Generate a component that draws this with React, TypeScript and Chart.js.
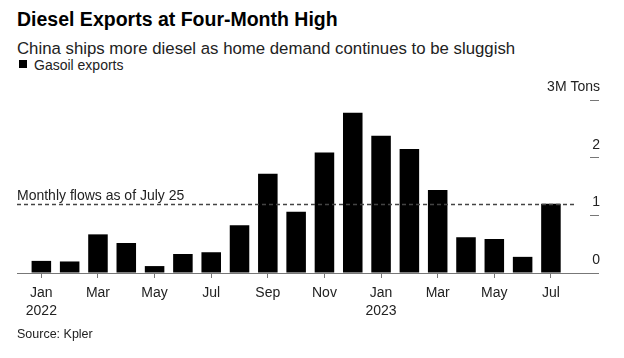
import React, { useEffect, useRef } from "react";
import { Chart, registerables } from "chart.js";

Chart.register(...registerables);

// ---- data ----
const months = [
  "Jan 2022", "Feb 2022", "Mar 2022", "Apr 2022", "May 2022", "Jun 2022",
  "Jul 2022", "Aug 2022", "Sep 2022", "Oct 2022", "Nov 2022", "Dec 2022",
  "Jan 2023", "Feb 2023", "Mar 2023", "Apr 2023", "May 2023", "Jun 2023",
  "Jul 2023",
];
// Gasoil exports, million tons
const gasoilExports = [
  0.21, 0.2, 0.67, 0.52, 0.12, 0.33, 0.36, 0.83, 1.72, 1.06,
  2.09, 2.78, 2.38, 2.15, 1.44, 0.62, 0.59, 0.28, 1.2,
];
const yTickValues = [0, 1, 2, 3];
const yTickLabels = ["0", "1", "2", "3M Tons"];
const flowLevel = 1.19;
const flowLabel = "Monthly flows as of July 25";

const TITLE = "Diesel Exports at Four-Month High";
const SUBTITLE = "China ships more diesel as home demand continues to be sluggish";
const LEGEND = "Gasoil exports";
const SOURCE = "Source: Kpler";

const FONT = '"Liberation Sans", Arial, Helvetica, sans-serif';
const X_MIN = -0.86;
const X_MAX = 19.38;
const FLOW_END = 18.85;

const flowLabelPlugin = {
  id: "flowLabel",
  afterDatasetsDraw(chart: any) {
    const { ctx, chartArea, scales } = chart;
    const y = scales.y.getPixelForValue(flowLevel);
    ctx.save();
    ctx.font = `14px ${FONT}`;
    ctx.fillStyle = "#222";
    ctx.textAlign = "left";
    ctx.textBaseline = "alphabetic";
    ctx.fillText(flowLabel, chartArea.left, y - 4);
    ctx.restore();
  },
};

export default function App() {
  const ref = useRef<HTMLCanvasElement | null>(null);

  useEffect(() => {
    if (!ref.current) return;
    const chart = new Chart(ref.current, {
      type: "bar",
      data: {
        datasets: [
          {
            type: "bar",
            label: LEGEND,
            data: gasoilExports.map((v, i) => ({ x: i, y: v })),
            backgroundColor: "#000",
            borderWidth: 0,
            barPercentage: 0.69,
            categoryPercentage: 1,
            order: 2,
          } as any,
          {
            type: "line",
            label: flowLabel,
            data: [
              { x: X_MIN, y: flowLevel },
              { x: FLOW_END, y: flowLevel },
            ],
            borderColor: "#444",
            borderWidth: 1.5,
            borderDash: [4, 3],
            pointRadius: 0,
            order: 1,
          } as any,
        ],
      },
      options: {
        responsive: false,
        animation: false,
        devicePixelRatio: 1,
        layout: { padding: { left: 17, right: 24, top: 100, bottom: 35 } },
        plugins: {
          legend: { display: false },
          tooltip: { enabled: false },
        },
        scales: {
          x: {
            type: "linear",
            min: X_MIN,
            max: X_MAX,
            offset: false,
            afterFit: (axis: any) => {
              axis.height = 50;
            },
            afterBuildTicks: (axis: any) => {
              axis.ticks = months
                .map((_, i) => ({ value: i }))
                .filter((t) => t.value % 2 === 0);
            },
            ticks: {
              autoSkip: false,
              maxRotation: 0,
              padding: 6,
              color: "#222",
              font: { family: FONT, size: 14, lineHeight: 1.3 },
              callback: (v: any) => {
                const i = Math.round(Number(v));
                const [m, yr] = months[i].split(" ");
                return m === "Jan" ? [m, yr] : m;
              },
            },
            grid: {
              offset: false,
              drawOnChartArea: false,
              drawTicks: true,
              tickLength: 5,
              color: "#777",
              lineWidth: 1,
            },
            border: { display: true, color: "#777", width: 1 },
          },
          y: {
            position: "right",
            min: 0,
            max: 3,
            afterFit: (axis: any) => {
              axis.width = 10;
            },
            afterBuildTicks: (axis: any) => {
              axis.ticks = yTickValues.map((v) => ({ value: v }));
            },
            ticks: {
              mirror: true,
              padding: 10,
              labelOffset: -13,
              color: "#222",
              font: { family: FONT, size: 14 },
              callback: (v: any) => yTickLabels[yTickValues.indexOf(Number(v))],
            },
            grid: {
              drawOnChartArea: false,
              drawTicks: true,
              tickLength: 9,
              color: "#777",
              lineWidth: 1,
            },
            border: { display: false },
          },
        },
      } as any,
      plugins: [flowLabelPlugin],
    });
    return () => chart.destroy();
  }, []);

  return (
    <div
      style={{
        position: "fixed",
        left: 0,
        top: 0,
        width: 624,
        height: 358,
        background: "#fff",
        fontFamily: FONT,
        color: "#111",
        overflow: "hidden",
      }}
    >
      <div
        style={{
          position: "absolute",
          left: 17,
          top: 10,
          fontSize: 19.5,
          lineHeight: 1,
          fontWeight: 700,
          whiteSpace: "nowrap",
          color: "#000",
        }}
      >
        {TITLE}
      </div>
      <div
        style={{
          position: "absolute",
          left: 17,
          top: 40.6,
          fontSize: 16.8,
          lineHeight: 1,
          whiteSpace: "nowrap",
          color: "#222",
        }}
      >
        {SUBTITLE}
      </div>
      <div
        style={{
          position: "absolute",
          left: 19,
          top: 60,
          width: 8,
          height: 8,
          background: "#000",
        }}
      />
      <div
        style={{
          position: "absolute",
          left: 34,
          top: 58,
          fontSize: 14,
          lineHeight: 1,
          whiteSpace: "nowrap",
          color: "#222",
        }}
      >
        {LEGEND}
      </div>
      <canvas
        ref={ref}
        width={624}
        height={358}
        style={{ position: "absolute", left: 0, top: 0, width: 624, height: 358 }}
      />
      <div
        style={{
          position: "absolute",
          left: 17,
          top: 328,
          fontSize: 12.5,
          lineHeight: 1,
          whiteSpace: "nowrap",
          color: "#222",
        }}
      >
        {SOURCE}
      </div>
    </div>
  );
}
